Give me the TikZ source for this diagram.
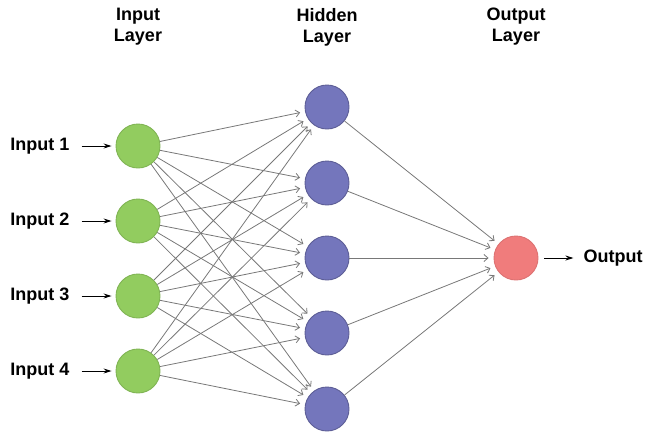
\documentclass[tikz,border=0pt]{standalone}
\usepackage{fontspec}
\setmainfont{Liberation Sans}
\usepackage{xcolor}
\usetikzlibrary{arrows.meta,positioning}
\definecolor{ingreen}{RGB}{146,204,95}
\definecolor{hidblue}{RGB}{116,118,188}
\definecolor{outred}{RGB}{240,124,124}
\definecolor{linkgray}{RGB}{120,120,120}
\tikzset{
  neuron/.style={circle,minimum size=44pt,inner sep=0pt,line width=0.9pt},
  inneuron/.style={neuron,fill=ingreen,draw=ingreen!88!black},
  hidneuron/.style={neuron,fill=hidblue,draw=hidblue!80!black},
  outneuron/.style={neuron,fill=outred,draw=outred!92!black},
  link/.style={-{Straight Barb[length=4pt,width=7pt]},draw=linkgray,line width=0.8pt,shorten >=5pt},
  feed/.style={-{Stealth[length=8pt,width=5pt]},line width=1pt},
  lbl/.style={font=\bfseries\fontsize{18}{21}\selectfont,align=center,inner sep=0pt}
}

\begin{document}
\begin{tikzpicture}[x=1pt,y=-1pt]
  \useasboundingbox (0,0) rectangle (650,440);
  % layers
  \foreach \i/\Y in {1/146,2/221,3/296,4/371}
    \node[inneuron] (in\i) at (138,\Y) {};
  \foreach \j/\Y in {1/107,2/183,3/258,4/333,5/409}
    \node[hidneuron] (hid\j) at (327,\Y) {};
  \node[outneuron] (out) at (516,258) {};
  % titles
  \node[lbl] (tin) at (138,27) {Input\\Layer};
  \node[lbl] (thid) at (327,27) {Hidden\\Layer};
  \node[lbl] (tout) at (516,27) {Output\\Layer};
  % connections
  \foreach \i in {1,...,4}
    \foreach \j in {1,...,5}
      \draw[link] (in\i) -- (hid\j);
  \foreach \j in {1,...,5} \draw[link] (hid\j) -- (out);
  % inputs and output
  \foreach \i in {1,...,4}{
    \node[lbl,left=46pt of in\i] (lab\i) {Input \i};
    \draw[feed,shorten <=12pt,shorten >=4pt] (lab\i) -- (in\i);
  }
  \node[lbl,right=45pt of out] (olab) {Output};
  \draw[feed,shorten <=6pt,shorten >=10pt] (out) -- (olab);
\end{tikzpicture}
\end{document}
